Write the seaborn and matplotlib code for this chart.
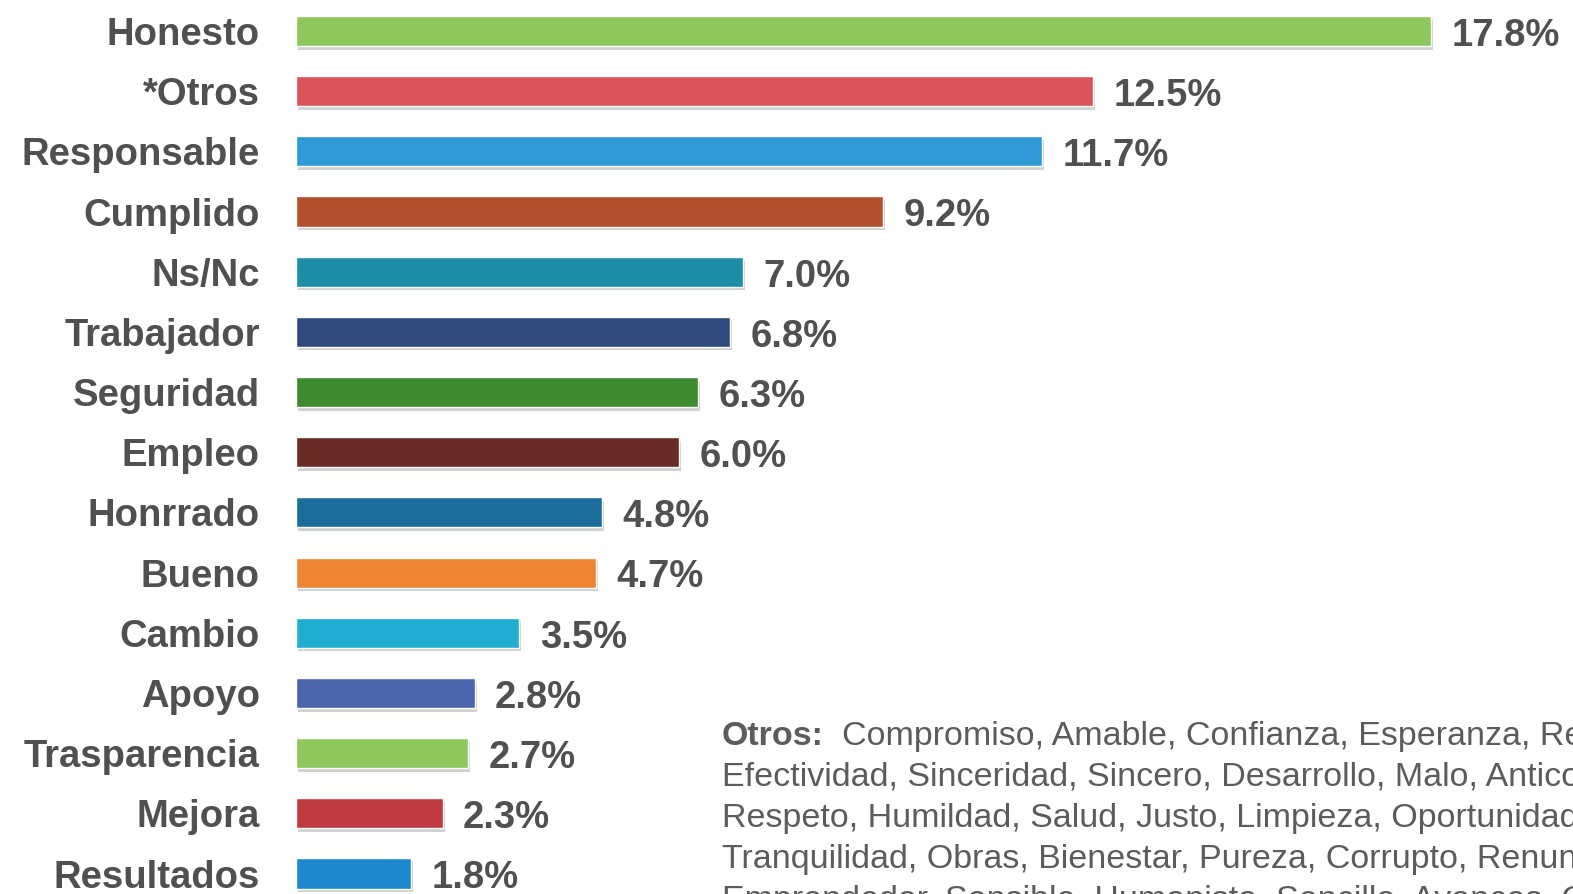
import matplotlib
matplotlib.use("Agg")
import matplotlib.pyplot as plt
import matplotlib.patheffects as pe
import seaborn as sns
import pandas as pd

categories = ["Honesto", "*Otros", "Responsable", "Cumplido", "Ns/Nc", "Trabajador",
              "Seguridad", "Empleo", "Honrrado", "Bueno", "Cambio", "Apoyo",
              "Trasparencia", "Mejora", "Resultados"]
values = [17.8, 12.5, 11.7, 9.2, 7.0, 6.8, 6.3, 6.0, 4.8, 4.7, 3.5, 2.8, 2.7, 2.3, 1.8]
colors = ["#8EC75B", "#D95359", "#2F9AD5", "#B5502F", "#1C8EA6", "#2F4A7C",
          "#3F8B30", "#6A2B27", "#1B6E9B", "#EE8533", "#1FAED1", "#4B65AF",
          "#8EC75B", "#BF3A3F", "#1E88CE"]
note_lines = [
    "Compromiso, Amable, Confianza, Esperanza, Rectitud,",
    "Efectividad, Sinceridad, Sincero, Desarrollo, Malo, Anticorrupción,",
    "Respeto, Humildad, Salud, Justo, Limpieza, Oportunidades,",
    "Tranquilidad, Obras, Bienestar, Pureza, Corrupto, Renuncia,",
    "Emprendedor, Sensible, Humanista, Sencillo, Avances, Calidad,",
]

df = pd.DataFrame({"cat": categories, "val": values})

sns.set_theme(style="white")
plt.rcParams["font.family"] = ["Liberation Sans", "DejaVu Sans"]

W, H = 1573, 894
fig = plt.figure(figsize=(W / 100, H / 100), dpi=100)
left = 296 / W
ax = fig.add_axes([left, 0, 1 - left, 1])

sns.barplot(data=df, x="val", y="cat", hue="cat", palette=colors, legend=False,
            width=0.5, ax=ax, orient="h", saturation=1)

for p in ax.patches:
    p.set_path_effects([pe.SimplePatchShadow(offset=(1.5, -2.5), shadow_rgbFace="#999999", alpha=0.45),
                        pe.Normal()])

ax.set_xlim(0, 20.02)
ax.set_ylim(14.34, -0.515)
ax.set_xlabel("")
ax.set_ylabel("")
ax.set_xticks([])
ax.tick_params(axis="y", length=0, pad=26)
ax.set_yticks(range(len(categories)))
ax.set_yticklabels(categories, fontsize=27.5, fontweight="bold", color="#505050")
for s in ax.spines.values():
    s.set_visible(False)

for i, v in enumerate(values):
    ax.text(v + 0.32, i + 0.08, f"{v:.1f}%", va="center", ha="left",
            fontsize=27.5, fontweight="bold", color="#505050")

fam = ["Liberation Sans", "DejaVu Sans"]
fs = 24.5
y0 = 745
for k, line in enumerate(note_lines):
    yy = 1 - (y0 + 41 * k) / H
    if k == 0:
        fig.text(722 / W, yy, "Otros:", fontsize=fs, fontweight="bold",
                 color="#5c5c5c", family=fam, va="baseline", ha="left")
        fig.text(842 / W, yy, line, fontsize=fs, color="#5c5c5c",
                 family=fam, va="baseline", ha="left")
    else:
        fig.text(722 / W, yy, line, fontsize=fs, color="#5c5c5c",
                 family=fam, va="baseline", ha="left")

fig.savefig("out.png", dpi=100)
